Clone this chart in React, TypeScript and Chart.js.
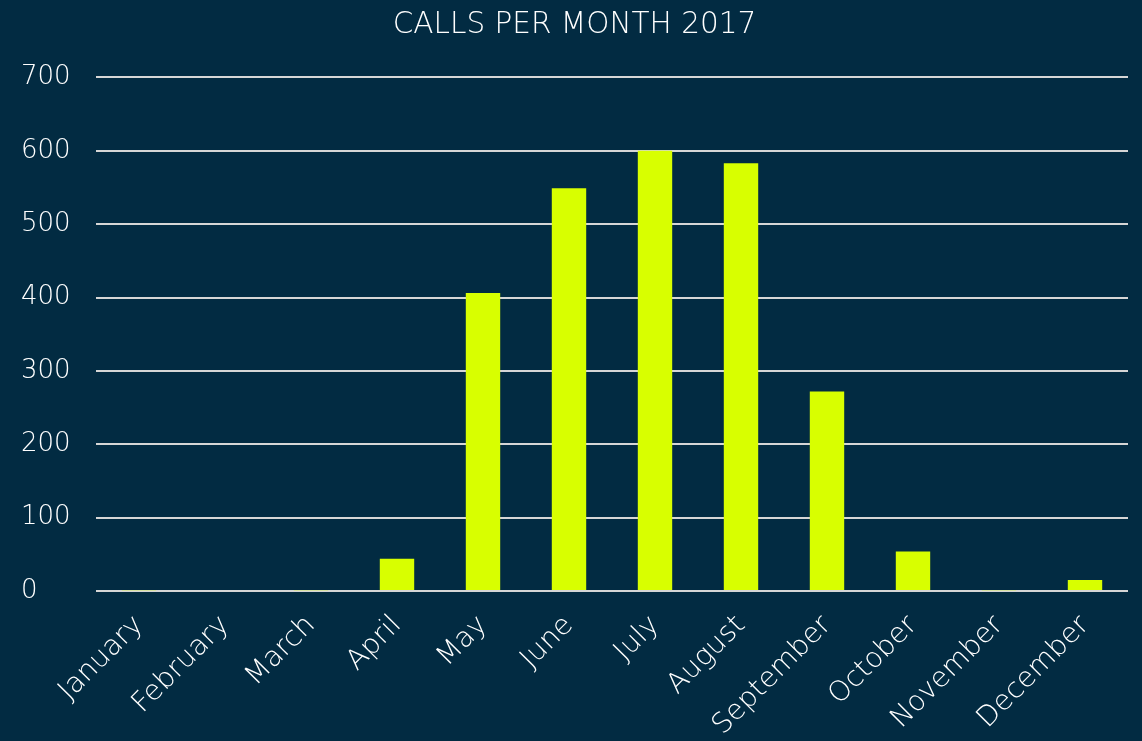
import React, { useEffect, useRef } from "react";
import { Chart, registerables } from "chart.js";

Chart.register(...registerables);

const months = ["January", "February", "March", "April", "May", "June", "July", "August", "September", "October", "November", "December"];
const calls = [1, 0, 1, 44, 406, 549, 600, 583, 272, 54, 1, 15];
const yTicks = [0, 100, 200, 300, 400, 500, 600, 700];

const BG = "#022b42";
const BAR = "#d8ff00";
const FONT = "'DejaVu Sans', sans-serif";

export default function App() {
  const ref = useRef<HTMLCanvasElement | null>(null);
  useEffect(() => {
    document.body.style.margin = "0";
    document.body.style.background = BG;
    const bgPlugin = {
      id: "bg",
      beforeDraw(chart: any) {
        const { ctx, width, height } = chart;
        ctx.save();
        ctx.fillStyle = BG;
        ctx.fillRect(0, 0, width, height);
        ctx.restore();
      },
    };
    const chart = new Chart(ref.current!, {
      type: "bar",
      data: {
        labels: months,
        datasets: [
          {
            label: "Calls",
            data: calls,
            backgroundColor: BAR,
            borderWidth: 0,
            barPercentage: 0.4,
            categoryPercentage: 1,
          },
        ],
      },
      options: {
        animation: false,
        responsive: false,
        layout: { padding: { left: 21, right: 14, top: 6, bottom: 0 } },
        plugins: {
          legend: { display: false },
          tooltip: { enabled: false },
          title: {
            display: true,
            text: "CALLS PER MONTH 2017",
            color: "#ffffff",
            font: { family: FONT, size: 29.5, weight: "200" },
            padding: { top: 2, bottom: 34 },
          },
        },
        scales: {
          x: {
            grid: { display: false },
            border: { display: false },
            afterFit(axis: any) {
              axis.height = 150;
            },
            ticks: {
              color: "#ffffff",
              font: { family: FONT, size: 28, weight: "200" },
              maxRotation: 45,
              minRotation: 45,
              padding: 10,
            },
          },
          y: {
            min: 0,
            max: 700,
            afterBuildTicks(axis: any) {
              axis.ticks = yTicks.map((v) => ({ value: v }));
            },
            afterFit(axis: any) {
              axis.width = 75;
            },
            grid: { color: "#d6d6d6", lineWidth: 2, drawTicks: false },
            border: { display: false },
            ticks: {
              color: "#ffffff",
              font: { family: FONT, size: 26, weight: "200" },
              padding: 26,
              crossAlign: "far",
            },
          },
        },
      },
      plugins: [bgPlugin],
    });
    return () => chart.destroy();
  }, []);
  return <canvas ref={ref} width={1142} height={741} style={{ display: "block" }} />;
}
